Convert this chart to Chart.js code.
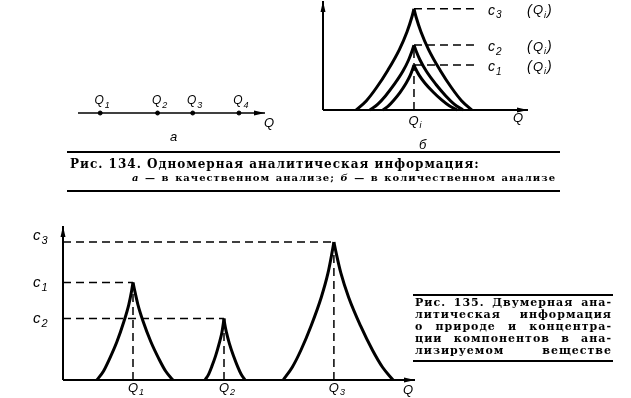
<!DOCTYPE html>
<html lang="ru">
<head>
<meta charset="utf-8">
<script src="https://cdn.jsdelivr.net/npm/chart.js@4/dist/chart.umd.min.js"></script>
<style>
body{margin:0;background:#fff;}
#page{position:relative;width:631px;height:398px;overflow:hidden;background:#fff;font-family:"DejaVu Serif",serif;color:#000;}
canvas{position:absolute;left:0;top:0;}
.rule{position:absolute;height:2px;background:#000;}
.cap{position:absolute;font-weight:bold;white-space:nowrap;text-align:justify;text-align-last:justify;line-height:12px;}
.cap i{font-weight:bold;}
</style>
</head>
<body>
<div id="page">
<canvas id="panelA" width="631" height="398"></canvas>
<canvas id="panelB" width="631" height="398"></canvas>
<canvas id="twoDim" width="631" height="398"></canvas>

<div class="rule" style="left:67px;top:151px;width:493px"></div>
<div class="cap" style="left:70px;top:158px;width:408px;font-size:12px;letter-spacing:1px">Рис. 134. Одномерная аналитическая информация:</div>
<div class="cap" style="left:132px;top:172px;width:424px;font-size:10px;letter-spacing:1px"><i>а</i> — в качественном анализе; <i>б</i> — в количественном анализе</div>
<div class="rule" style="left:67px;top:190px;width:493px"></div>

<div class="rule" style="left:413px;top:294px;width:200px"></div>
<div class="cap" style="left:415px;top:297px;width:197px;font-size:11px;letter-spacing:1px">Рис. 135. Двумерная ана-</div>
<div class="cap" style="left:415px;top:309px;width:197px;font-size:11px;letter-spacing:1px">литическая информация</div>
<div class="cap" style="left:415px;top:321px;width:197px;font-size:11px;letter-spacing:1px">о природе и концентра-</div>
<div class="cap" style="left:415px;top:333px;width:197px;font-size:11px;letter-spacing:1px">ции компонентов в ана-</div>
<div class="cap" style="left:415px;top:345px;width:197px;font-size:11px;letter-spacing:1px">лизируемом веществе</div>
<div class="rule" style="left:413px;top:360px;width:200px"></div>
</div>

<script>
// --- а: одномерная информация (положения компонентов на оси Q)
const qualPos = [12, 43, 62, 87];
const qualSubs = ['1', '2', '3', '4'];

// --- б: один компонент Qi при трёх концентрациях
const qiPos = 44.6;
const qiConc = [41, 59, 92];          // c1, c2, c3
const qiSubs = ['1', '2', '3'];
const outerLeft  = [[16.2,0],[21.3,8.5],[26.1,20],[31.8,36.2],[37.5,55.2],[41.2,71.2],[43.5,84.1],[44.6,92]];
const outerRight = [[44.6,92],[45.7,84.1],[48,71.2],[51.7,55.2],[57.4,36.2],[63.1,20],[67.9,8.5],[73,0]];
const midLeft    = [[23,0],[26.9,5.4],[30.6,12.8],[34.9,23.2],[39.2,35.4],[42,45.7],[43.7,53.9],[44.6,59]];
const midRight   = [[44.6,59],[45.6,53.9],[47.5,45.7],[50.6,35.4],[55.4,23.2],[60.2,12.8],[64.3,5.4],[68.6,0]];
const innerLeft  = [[29.4,0],[32.1,3.8],[34.7,8.9],[37.8,16.1],[40.8,24.6],[42.8,31.7],[44,37.5],[44.6,41]];
const innerRight = [[44.6,41],[45.4,37.5],[47.1,31.7],[49.9,24.6],[54.1,16.1],[58.3,8.9],[61.9,3.8],[65.7,0]];

// --- рис. 135: три компонента Q1, Q2, Q3 с концентрациями c1, c2, c3
const compPos = [20, 46, 77.4];
const compConc = [65, 41, 92];
const compSubs = ['1', '2', '3'];
const q1Left  = [[9.7,0],[11.6,6],[13.3,14.1],[15.4,25.5],[17.4,39],[18.8,50.3],[19.6,59.4],[20,65]];
const q1Right = [[20,65],[20.5,59.4],[21.4,50.3],[22.9,39],[25.1,25.5],[27.4,14.1],[29.3,6],[31.4,0]];
const q2Left  = [[40.6,0],[41.6,3.8],[42.5,8.9],[43.6,16.1],[44.65,24.6],[45.4,31.7],[45.8,37.5],[46,41]];
const q2Right = [[46,41],[46.2,37.5],[46.7,31.7],[47.5,24.6],[48.7,16.1],[49.9,8.9],[50.9,3.8],[52,0]];
const q3Left  = [[62.9,0],[65.5,8.5],[68,20],[70.9,36.2],[73.8,55.2],[75.7,71.2],[76.8,84.1],[77.4,92]];
const q3Right = [[77.4,92],[78.1,84.1],[79.4,71.2],[81.6,55.2],[85,36.2],[88.4,20],[91.3,8.5],[94.3,0]];

const FONT = '"Liberation Sans", sans-serif';

function pts(arr) { return arr.map(p => ({x: p[0], y: p[1]})); }

function curve(arr) {
  return { data: pts(arr), showLine: true, borderColor: '#000', borderWidth: 3,
           pointRadius: 0, cubicInterpolationMode: 'monotone', clip: false };
}
function dashed(arr) {
  return { data: pts(arr), showLine: true, borderColor: '#000', borderWidth: 1.5,
           borderDash: [8, 5], pointRadius: 0, clip: false };
}

function arrow(ctx, x1, y1, x2, y2, w) {
  const a = Math.atan2(y2 - y1, x2 - x1);
  ctx.lineWidth = w;
  ctx.beginPath(); ctx.moveTo(x1, y1); ctx.lineTo(x2, y2); ctx.stroke();
  ctx.beginPath();
  ctx.moveTo(x2, y2);
  ctx.lineTo(x2 - 11 * Math.cos(a) + 2.5 * Math.sin(a), y2 - 11 * Math.sin(a) - 2.5 * Math.cos(a));
  ctx.lineTo(x2 - 11 * Math.cos(a) - 2.5 * Math.sin(a), y2 - 11 * Math.sin(a) + 2.5 * Math.cos(a));
  ctx.closePath(); ctx.fill();
}

// буква с нижним индексом; align: 'left' | 'center'
function subLabel(ctx, main, sub, x, y, size, align) {
  ctx.textBaseline = 'middle';
  ctx.textAlign = 'left';
  ctx.font = 'italic ' + size + 'px ' + FONT;
  const w1 = ctx.measureText(main).width;
  ctx.font = 'italic ' + Math.round(size * 0.72) + 'px ' + FONT;
  const w2 = sub ? ctx.measureText(sub).width + 1 : 0;
  let x0 = align === 'center' ? x - (w1 + w2) / 2 : x;
  ctx.font = 'italic ' + size + 'px ' + FONT;
  ctx.fillText(main, x0, y);
  if (sub) {
    ctx.font = 'italic ' + Math.round(size * 0.72) + 'px ' + FONT;
    ctx.fillText(sub, x0 + w1 + 1, y + size * 0.35);
  }
  return w1 + w2;
}

function baseOptions(pad, xMax, yMin, yMax) {
  return {
    responsive: false, animation: false, events: [],
    layout: { padding: pad },
    plugins: { legend: { display: false }, tooltip: { enabled: false } },
    scales: {
      x: { type: 'linear', min: 0, max: xMax, display: false },
      y: { type: 'linear', min: yMin, max: yMax, display: false }
    }
  };
}

// ---------- а ----------
new Chart(document.getElementById('panelA'), {
  type: 'scatter',
  data: { datasets: [{ data: qualPos.map(v => ({x: v, y: 0})), pointRadius: 2,
                       pointBackgroundColor: '#000', pointBorderColor: '#000' }] },
  options: baseOptions({left: 78, right: 368, top: 103, bottom: 275}, 100, -1, 1),
  plugins: [{
    id: 'axisA',
    beforeDatasetsDraw(chart) {
      const {ctx, scales: {x, y}} = chart;
      ctx.save(); ctx.fillStyle = ctx.strokeStyle = '#000';
      arrow(ctx, x.getPixelForValue(0), y.getPixelForValue(0), x.getPixelForValue(100) + 2, y.getPixelForValue(0), 1.5);
      ctx.restore();
    },
    afterDraw(chart) {
      const {ctx, scales: {x, y}} = chart;
      ctx.save(); ctx.fillStyle = '#000';
      qualPos.forEach((v, i) => subLabel(ctx, 'Q', qualSubs[i], x.getPixelForValue(v) + 2, y.getPixelForValue(0) - 12, 12, 'center'));
      subLabel(ctx, 'Q', '', x.getPixelForValue(100) + 1, y.getPixelForValue(0) + 10, 13, 'left');
      subLabel(ctx, 'а', '', 170, 137, 13, 'left');
      ctx.restore();
    }
  }]
});

// ---------- б ----------
new Chart(document.getElementById('panelB'), {
  type: 'scatter',
  data: { datasets: [
    ...qiConc.map(c => dashed([[qiPos, c], [74.5, c]])),
    dashed([[qiPos, 0], [qiPos, qiConc[1]]]),
    curve(outerLeft), curve(outerRight),
    curve(midLeft), curve(midRight),
    curve(innerLeft), curve(innerRight)
  ] },
  options: baseOptions({left: 323, right: 104, top: 0, bottom: 288}, 100, 0, 100),
  plugins: [{
    id: 'axisB',
    beforeDatasetsDraw(chart) {
      const {ctx, scales: {x, y}} = chart;
      const x0 = x.getPixelForValue(0), y0 = y.getPixelForValue(0);
      ctx.save(); ctx.fillStyle = ctx.strokeStyle = '#000';
      arrow(ctx, x0, y0, x0, 1, 2);
      arrow(ctx, x0, y0, x.getPixelForValue(100) + 1, y0, 2);
      ctx.restore();
    },
    afterDraw(chart) {
      const {ctx, scales: {x, y}} = chart;
      ctx.save(); ctx.fillStyle = '#000';
      qiConc.forEach((c, i) => {
        const py = y.getPixelForValue(c) + 2;
        subLabel(ctx, 'c', qiSubs[i], 488, py, 14, 'left');
        ctx.font = 'italic 14px ' + FONT;
        ctx.fillText('(', 527, py);
        const w = subLabel(ctx, 'Q', 'i', 533, py, 13, 'left');
        ctx.font = 'italic 14px ' + FONT;
        ctx.fillText(')', 533 + w + 1, py);
      });
      subLabel(ctx, 'Q', 'i', x.getPixelForValue(qiPos) + 1, 121, 13, 'center');
      subLabel(ctx, 'Q', '', 513, 118, 13, 'left');
      subLabel(ctx, 'б', '', 419, 145, 13, 'left');
      ctx.restore();
    }
  }]
});

// ---------- рис. 135 ----------
const compDash = [];
compPos.forEach((q, i) => {
  compDash.push(dashed([[0, compConc[i]], [q, compConc[i]]]));
  compDash.push(dashed([[q, 0], [q, compConc[i]]]));
});

new Chart(document.getElementById('twoDim'), {
  type: 'scatter',
  data: { datasets: [
    ...compDash,
    curve(q1Left), curve(q1Right),
    curve(q2Left), curve(q2Right),
    curve(q3Left), curve(q3Right)
  ] },
  options: baseOptions({left: 63, right: 218, top: 230, bottom: 18}, 100, 0, 100),
  plugins: [{
    id: 'axisC',
    beforeDatasetsDraw(chart) {
      const {ctx, scales: {x, y}} = chart;
      const x0 = x.getPixelForValue(0), y0 = y.getPixelForValue(0);
      ctx.save(); ctx.fillStyle = ctx.strokeStyle = '#000';
      arrow(ctx, x0, y0, x0, 226, 2);
      arrow(ctx, x0, y0, x.getPixelForValue(100) + 2, y0, 2);
      ctx.restore();
    },
    afterDraw(chart) {
      const {ctx, scales: {x, y}} = chart;
      ctx.save(); ctx.fillStyle = '#000';
      compConc.forEach((c, i) => {
        // c3 стоит чуть выше своей линии
        subLabel(ctx, 'c', compSubs[i], 33, i === 2 ? y.getPixelForValue(c) - 6 : y.getPixelForValue(c), 15, 'left');
      });
      compPos.forEach((q, i) => subLabel(ctx, 'Q', compSubs[i], x.getPixelForValue(q) + 3, 388, 13, 'center'));
      subLabel(ctx, 'Q', '', 403, 390, 13, 'left');
      ctx.restore();
    }
  }]
});
</script>
</body>
</html>
